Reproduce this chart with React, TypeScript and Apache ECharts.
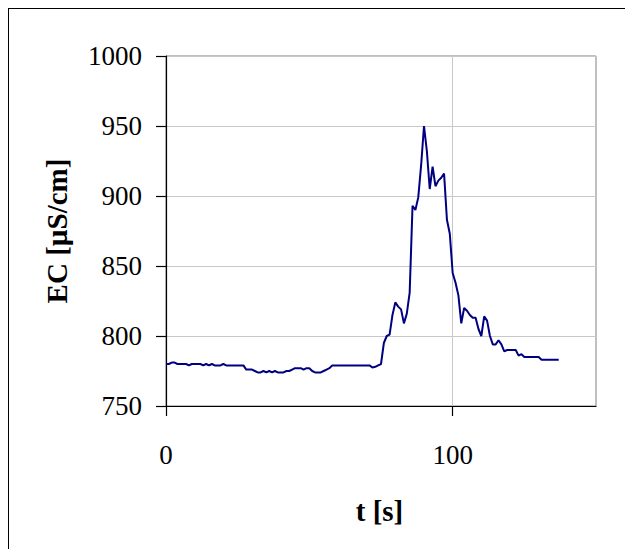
import React, { useEffect, useRef } from "react";
import * as echarts from "echarts";

const times = [
  0, 1, 2, 3, 4, 5, 6, 7, 8, 9, 10, 11, 12, 13, 14, 15, 16, 17, 18, 19,
  20, 21, 22, 23, 24, 25, 26, 27, 28, 29, 30, 31, 32, 33, 34, 35, 36, 37, 38, 39,
  40, 41, 42, 43, 44, 45, 46, 47, 48, 49, 50, 51, 52, 53, 54, 55, 56, 57, 58, 59,
  60, 61, 62, 63, 64, 65, 66, 67, 68, 69, 70, 71, 72, 73, 74, 75, 76, 77, 78, 79,
  80, 81, 82, 83, 84, 85, 86, 87, 88, 89, 90, 91, 92, 93, 94, 95, 96, 97, 98, 99,
  100, 101, 102, 103, 104, 105, 106, 107, 108, 109, 110, 111, 112, 113, 114, 115, 116, 117, 118, 119,
  120, 121, 122, 123, 124, 125, 126, 127, 128, 129, 130, 131, 132, 133, 134, 135, 136, 137,
];

const ecValues = [
  780, 780, 781, 781, 780, 780, 780, 780, 779, 780,
  780, 780, 780, 779, 780, 779, 780, 779, 779, 779,
  780, 779, 779, 779, 779, 779, 779, 779, 776, 776,
  776, 775, 774, 774, 775, 774, 775, 774, 775, 774,
  774, 774, 775, 775, 776, 777, 777, 777, 776, 777,
  777, 775, 774, 774, 774, 775, 776, 777, 779, 779,
  779, 779, 779, 779, 779, 779, 779, 779, 779, 779,
  779, 779, 777.5, 778, 779, 780, 795, 800, 801, 815,
  824, 821, 819, 809, 816, 831, 893, 890, 899, 922,
  950, 932, 905, 921, 907, 911, 913, 916, 883, 873,
  845, 838, 829, 809, 820, 818, 815, 813, 813, 805,
  800, 814, 811, 800, 794, 794, 797, 794, 789, 790,
  790, 790, 790, 786, 787, 785, 785, 785, 785, 785,
  785, 783, 783, 783, 783, 783, 783, 783,
];

const xTicks = [0, 100];
const yTicks = [750, 800, 850, 900, 950, 1000];

const FONT = "'Liberation Serif', 'Times New Roman', serif";

export default function App() {
  const ref = useRef<HTMLDivElement>(null);

  useEffect(() => {
    if (!ref.current) return;
    const chart = echarts.init(ref.current, null, { renderer: "svg" });
    const data = times.map((t, i) => [t, ecValues[i]]);
    chart.setOption({
      animation: false,
      backgroundColor: "#ffffff",
      grid: {
        left: 157,
        top: 47,
        width: 430,
        height: 350,
        show: true,
        borderColor: "#808080",
        borderWidth: 1,
        backgroundColor: "transparent",
      },
      xAxis: {
        type: "value",
        min: 0,
        max: 150,
        interval: 100,
        axisLine: { show: true, onZero: false, lineStyle: { color: "#000", width: 1.2 } },
        axisTick: { show: true, length: 10, customValues: xTicks, lineStyle: { color: "#000", width: 1.2 } },
        axisLabel: {
          show: true,
          customValues: xTicks,
          margin: 35,
          fontFamily: FONT,
          fontSize: 27,
          color: "#000",
          formatter: (v: number) => String(v),
        },
        splitLine: { show: true, lineStyle: { color: "#c8c8c8", width: 1 } },
      },
      yAxis: {
        type: "value",
        min: yTicks[0],
        max: yTicks[yTicks.length - 1],
        interval: 50,
        axisLine: { show: true, onZero: false, lineStyle: { color: "#000", width: 1.2 } },
        axisTick: { show: true, length: 10, lineStyle: { color: "#000", width: 1.2 } },
        axisLabel: {
          margin: 24,
          fontFamily: FONT,
          fontSize: 27,
          color: "#000",
          formatter: (v: number) => String(v),
        },
        splitLine: { show: true, lineStyle: { color: "#c8c8c8", width: 1 } },
      },
      graphic: [
        {
          type: "text",
          x: 370.5,
          y: 502,
          style: {
            text: "t [s]",
            fontFamily: FONT,
            fontWeight: "bold",
            fontSize: 29,
            fill: "#000",
            align: "center",
            verticalAlign: "middle",
          },
        },
        {
          type: "text",
          x: 47.5,
          y: 222,
          rotation: Math.PI / 2,
          style: {
            text: "EC [µS/cm]",
            fontFamily: FONT,
            fontWeight: "bold",
            fontSize: 29,
            fill: "#000",
            align: "center",
            verticalAlign: "middle",
          },
        },
      ],
      series: [
        {
          type: "line",
          data,
          showSymbol: false,
          symbol: "none",
          lineStyle: { color: "#000080", width: 2 },
          itemStyle: { color: "#000080" },
        },
      ],
    });
    return () => chart.dispose();
  }, []);

  return (
    <div
      style={{
        width: 625,
        height: 541,
        borderTop: "1px solid #000",
        borderLeft: "1px solid #000",
        boxSizing: "border-box",
        background: "#fff",
      }}
    >
      <div ref={ref} style={{ width: 624, height: 540 }} />
    </div>
  );
}
